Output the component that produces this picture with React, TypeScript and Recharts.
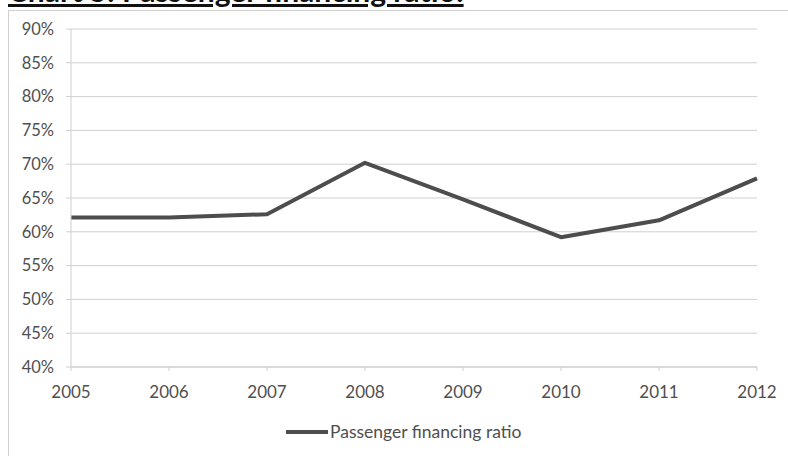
import React from "react";
import { LineChart, Line, XAxis, YAxis, CartesianGrid, Legend } from "recharts";

// Passenger financing ratio, in percent, by year
const years = ["2005", "2006", "2007", "2008", "2009", "2010", "2011", "2012"];
const financingRatio = [62.1, 62.1, 62.6, 70.2, 64.8, 59.2, 61.7, 67.9];
const yTicks = [40, 45, 50, 55, 60, 65, 70, 75, 80, 85, 90];
const seriesName = "Passenger financing ratio";
const chartTitle = "Chart 5: Passenger financing ratio:";

const rows = years.map((year, i) => ({ year, ratio: financingRatio[i] }));

const FONT = "Lato, 'Open Sans', sans-serif";
const TEXT = "#4f4f4f";
const GRID = "#cfcfcf";
const LINE = "#4d4d4d";

const LegendBox = () => (
  <div style={{ height: 53, position: "relative", fontFamily: FONT }}>
    <div
      style={{
        position: "absolute",
        left: 286,
        top: 18,
        display: "flex",
        alignItems: "center",
        fontSize: 17.5,
        color: TEXT,
      }}
    >
      <span style={{ display: "inline-block", width: 42, height: 4, background: LINE, marginRight: 2 }} />
      <span>{seriesName}</span>
    </div>
  </div>
);

export default function App() {
  return (
    <div style={{ position: "relative", width: 788, height: 456, overflow: "hidden", background: "#fff" }}>
      <style>{"body{margin:0}"}</style>
      {/* title sits partly above the frame */}
      <div
        style={{
          position: "absolute",
          left: 8,
          top: -27,
          fontFamily: FONT,
          fontWeight: 700,
          fontSize: 30,
          lineHeight: "34px",
          textDecoration: "underline",
          color: "#111",
          whiteSpace: "nowrap",
        }}
      >
        {chartTitle}
      </div>
      {/* chart frame */}
      <div
        style={{
          position: "absolute",
          left: 8,
          top: 10,
          width: 800,
          height: 460,
          borderLeft: `1px solid ${GRID}`,
          borderTop: `1px solid ${GRID}`,
        }}
      />
      <div style={{ position: "absolute", left: 0, top: 0 }}>
        <LineChart
          width={788}
          height={456}
          data={rows}
          margin={{ top: 29, right: 31, bottom: 0, left: 8 }}
        >
          <CartesianGrid vertical={false} stroke={GRID} strokeWidth={1} />
          <XAxis
            dataKey="year"
            height={36}
            interval={0}
            stroke={GRID}
            tickSize={4}
            tickMargin={15}
            tick={{ fill: TEXT, fontSize: 17, fontFamily: FONT }}
          />
          <YAxis
            width={63}
            domain={[40, 90]}
            ticks={yTicks}
            interval={0}
            stroke={GRID}
            tickSize={5}
            tickMargin={12}
            tickFormatter={(v: number) => `${v}%`}
            tick={{ fill: TEXT, fontSize: 16.5, fontFamily: FONT }}
          />
          <Legend verticalAlign="bottom" height={53} wrapperStyle={{ left: 0, width: 788 }} content={<LegendBox />} />
          <Line
            type="linear"
            dataKey="ratio"
            name={seriesName}
            stroke={LINE}
            strokeWidth={4}
            strokeLinejoin="round"
            dot={false}
            activeDot={false}
            isAnimationActive={false}
          />
        </LineChart>
      </div>
    </div>
  );
}
